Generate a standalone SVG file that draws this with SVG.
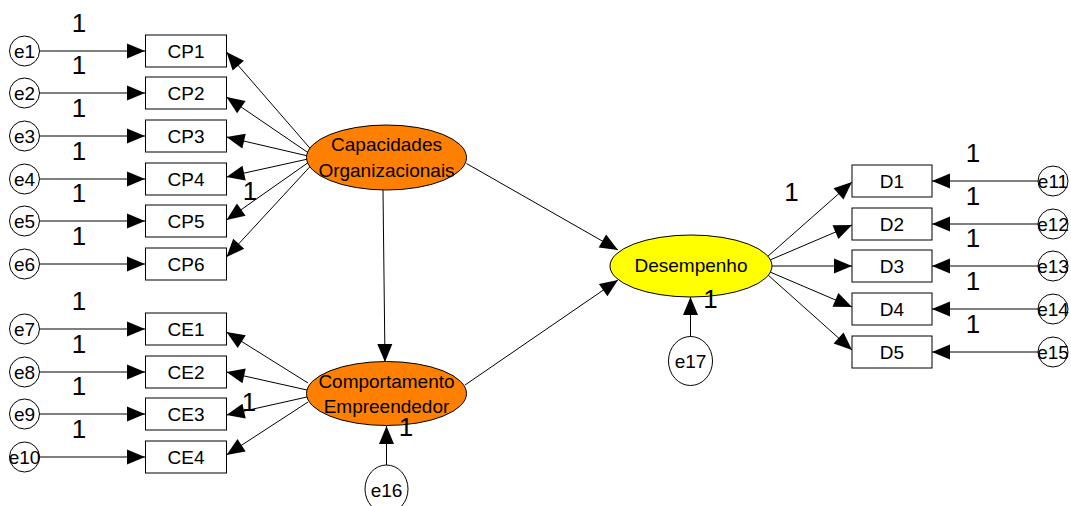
<svg xmlns="http://www.w3.org/2000/svg" width="1071" height="506" viewBox="0 0 1071 506">
<style>
text{font-family:"Liberation Sans",Arial,sans-serif;fill:#000}
.t{font-size:19px;text-anchor:middle}
.w{font-size:26px;text-anchor:middle}
.box{fill:#fff;stroke:#000;stroke-width:1}
.err{fill:#fff;stroke:#000;stroke-width:1}
.lat{fill:#FF8000;stroke:#000;stroke-width:1}
.des{fill:#FFFF00;stroke:#000;stroke-width:1}
.c{stroke:#000;stroke-width:1;fill:none;marker-end:url(#ah)}
</style>
<defs>
<marker id="ah" markerUnits="userSpaceOnUse" markerWidth="18" markerHeight="15" refX="18" refY="7.5" orient="auto" overflow="visible">
<path d="M0,0 L18,7.5 L0,15 z" fill="#000"/>
</marker>
</defs>
<rect width="1071" height="506" fill="#fff"/>
<g id="connectors">
<line class="c" x1="39.5" y1="51" x2="145" y2="51"/>
<line class="c" x1="39.5" y1="93" x2="145" y2="93"/>
<line class="c" x1="39.5" y1="136" x2="145" y2="136"/>
<line class="c" x1="39.5" y1="179" x2="145" y2="179"/>
<line class="c" x1="39.5" y1="221" x2="145" y2="221"/>
<line class="c" x1="39.5" y1="264" x2="145" y2="264"/>
<line class="c" x1="39.5" y1="329" x2="145" y2="329"/>
<line class="c" x1="39.5" y1="372" x2="145" y2="372"/>
<line class="c" x1="39.5" y1="414" x2="145" y2="414"/>
<line class="c" x1="39.5" y1="457" x2="145" y2="457"/>
<line class="c" x1="1038" y1="181" x2="932" y2="181"/>
<line class="c" x1="1038" y1="224" x2="932" y2="224"/>
<line class="c" x1="1038" y1="266" x2="932" y2="266"/>
<line class="c" x1="1038" y1="309" x2="932" y2="309"/>
<line class="c" x1="1038" y1="352" x2="932" y2="352"/>
<line class="c" x1="311.5" y1="150" x2="226.5" y2="52"/>
<line class="c" x1="310" y1="154" x2="226.5" y2="97"/>
<line class="c" x1="308" y1="156" x2="226.5" y2="137"/>
<line class="c" x1="308" y1="159" x2="226.5" y2="177"/>
<line class="c" x1="309" y1="162" x2="226.5" y2="220"/>
<line class="c" x1="311.5" y1="165" x2="226.5" y2="257"/>
<line class="c" x1="308" y1="383" x2="226.5" y2="332"/>
<line class="c" x1="307" y1="390" x2="226.5" y2="372"/>
<line class="c" x1="307" y1="397" x2="226.5" y2="415"/>
<line class="c" x1="308" y1="402" x2="226.5" y2="455"/>
<line class="c" x1="767" y1="257" x2="852" y2="182"/>
<line class="c" x1="770" y1="260" x2="852" y2="225"/>
<line class="c" x1="772" y1="266" x2="852" y2="266"/>
<line class="c" x1="770" y1="272" x2="852" y2="307"/>
<line class="c" x1="768" y1="275" x2="852" y2="350"/>
<line class="c" x1="466.5" y1="163.5" x2="618" y2="250"/>
<line class="c" x1="465" y1="385" x2="618" y2="280"/>
<line class="c" x1="383" y1="190" x2="385" y2="362"/>
<line class="c" x1="386.5" y1="465" x2="386.5" y2="426"/>
<line class="c" x1="690.5" y1="337" x2="690.5" y2="297"/>
</g>
<g id="e1"><circle class="err" cx="24.5" cy="51" r="15"/><text class="t" x="24.5" y="57.5">e1</text></g>
<g id="e2"><circle class="err" cx="24.5" cy="93" r="15"/><text class="t" x="24.5" y="99.5">e2</text></g>
<g id="e3"><circle class="err" cx="24.5" cy="136" r="15"/><text class="t" x="24.5" y="142.5">e3</text></g>
<g id="e4"><circle class="err" cx="24.5" cy="179" r="15"/><text class="t" x="24.5" y="185.5">e4</text></g>
<g id="e5"><circle class="err" cx="24.5" cy="221" r="15"/><text class="t" x="24.5" y="227.5">e5</text></g>
<g id="e6"><circle class="err" cx="24.5" cy="264" r="15"/><text class="t" x="24.5" y="270.5">e6</text></g>
<g id="e7"><circle class="err" cx="24.5" cy="329" r="15"/><text class="t" x="24.5" y="335.5">e7</text></g>
<g id="e8"><circle class="err" cx="24.5" cy="372" r="15"/><text class="t" x="24.5" y="378.5">e8</text></g>
<g id="e9"><circle class="err" cx="24.5" cy="414" r="15"/><text class="t" x="24.5" y="420.5">e9</text></g>
<g id="e10"><circle class="err" cx="24.5" cy="457" r="15"/><text class="t" x="24.5" y="463.5">e10</text></g>
<g id="e11"><circle class="err" cx="1053" cy="181" r="15"/><text class="t" x="1053" y="187.5">e11</text></g>
<g id="e12"><circle class="err" cx="1053" cy="224" r="15"/><text class="t" x="1053" y="230.5">e12</text></g>
<g id="e13"><circle class="err" cx="1053" cy="266" r="15"/><text class="t" x="1053" y="272.5">e13</text></g>
<g id="e14"><circle class="err" cx="1053" cy="309" r="15"/><text class="t" x="1053" y="315.5">e14</text></g>
<g id="e15"><circle class="err" cx="1053" cy="352" r="15"/><text class="t" x="1053" y="358.5">e15</text></g>
<g id="e16"><ellipse class="err" cx="386.5" cy="489" rx="21.5" ry="24"/><text class="t" x="386.5" y="496.5">e16</text></g>
<g id="e17"><ellipse class="err" cx="690.5" cy="361" rx="22" ry="24.5"/><text class="t" x="690.5" y="368">e17</text></g>
<g id="CP1"><rect class="box" x="145.5" y="35" width="81" height="32"/><text class="t" x="186" y="58">CP1</text></g>
<g id="CP2"><rect class="box" x="145.5" y="77" width="81" height="32"/><text class="t" x="186" y="100">CP2</text></g>
<g id="CP3"><rect class="box" x="145.5" y="120" width="81" height="32"/><text class="t" x="186" y="143">CP3</text></g>
<g id="CP4"><rect class="box" x="145.5" y="163" width="81" height="32"/><text class="t" x="186" y="186">CP4</text></g>
<g id="CP5"><rect class="box" x="145.5" y="205" width="81" height="32"/><text class="t" x="186" y="228">CP5</text></g>
<g id="CP6"><rect class="box" x="145.5" y="248" width="81" height="32"/><text class="t" x="186" y="271">CP6</text></g>
<g id="CE1"><rect class="box" x="145.5" y="313" width="81" height="32"/><text class="t" x="186" y="336">CE1</text></g>
<g id="CE2"><rect class="box" x="145.5" y="356" width="81" height="32"/><text class="t" x="186" y="379">CE2</text></g>
<g id="CE3"><rect class="box" x="145.5" y="398" width="81" height="32"/><text class="t" x="186" y="421">CE3</text></g>
<g id="CE4"><rect class="box" x="145.5" y="441" width="81" height="32"/><text class="t" x="186" y="464">CE4</text></g>
<g id="D1"><rect class="box" x="852" y="165" width="80" height="32"/><text class="t" x="892" y="188">D1</text></g>
<g id="D2"><rect class="box" x="852" y="208" width="80" height="32"/><text class="t" x="892" y="231">D2</text></g>
<g id="D3"><rect class="box" x="852" y="250" width="80" height="32"/><text class="t" x="892" y="273">D3</text></g>
<g id="D4"><rect class="box" x="852" y="293" width="80" height="32"/><text class="t" x="892" y="316">D4</text></g>
<g id="D5"><rect class="box" x="852" y="336" width="80" height="32"/><text class="t" x="892" y="359">D5</text></g>
<g id="CapacidadesOrganizacionais"><ellipse class="lat" cx="386.5" cy="157.5" rx="80" ry="32.5"/><text class="t" x="386.5" y="150.5">Capacidades</text><text class="t" x="386.5" y="176.5">Organizacionais</text></g>
<g id="ComportamentoEmpreendedor"><ellipse class="lat" cx="386.5" cy="393.5" rx="80" ry="32"/><text class="t" x="386.5" y="388">Comportamento</text><text class="t" x="386.5" y="413">Empreendedor</text></g>
<g id="Desempenho"><ellipse class="des" cx="691" cy="266" rx="81" ry="31"/><text class="t" x="691" y="272">Desempenho</text></g>
<g id="weights">
<text class="w" x="79" y="32">1</text>
<text class="w" x="79" y="74">1</text>
<text class="w" x="79" y="117">1</text>
<text class="w" x="79" y="160">1</text>
<text class="w" x="79" y="202">1</text>
<text class="w" x="79" y="245">1</text>
<text class="w" x="79" y="310">1</text>
<text class="w" x="79" y="353">1</text>
<text class="w" x="79" y="395">1</text>
<text class="w" x="79" y="438">1</text>
<text class="w" x="973" y="162">1</text>
<text class="w" x="973" y="205">1</text>
<text class="w" x="973" y="247">1</text>
<text class="w" x="973" y="290">1</text>
<text class="w" x="973" y="333">1</text>
<text class="w" x="250" y="200">1</text>
<text class="w" x="249" y="411">1</text>
<text class="w" x="406" y="436">1</text>
<text class="w" x="710.5" y="308">1</text>
<text class="w" x="791.5" y="201">1</text>
</g>
</svg>
